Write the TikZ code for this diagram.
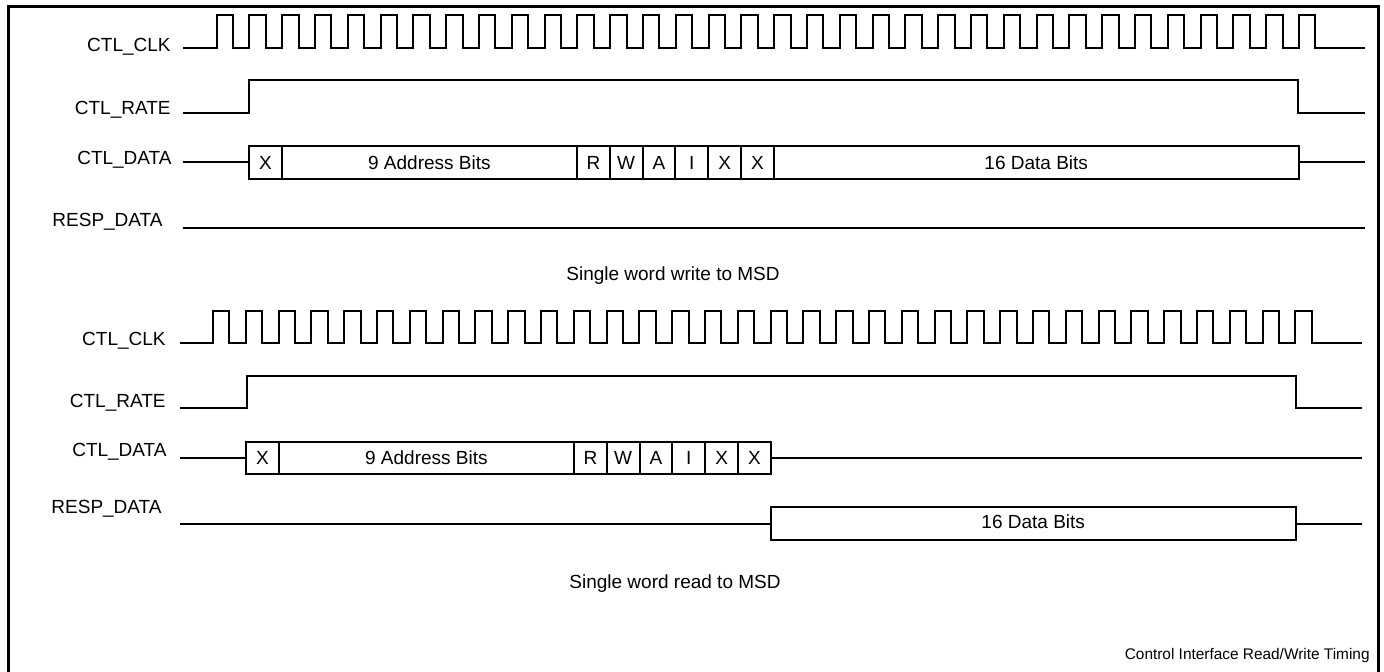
\documentclass[tikz,border=0pt]{standalone}
\usepackage{fontspec}
\setmainfont{Liberation Sans}
\usetikzlibrary{positioning}

\begin{document}
\begin{tikzpicture}[x=0.5pt, y=-0.5pt,
  font=\fontsize{9.5}{11}\selectfont,
  sig/.style={line width=1pt, line join=miter},
  lbl/.style={anchor=base east, inner sep=0pt},
  cell/.style={draw, line width=1pt, inner sep=0pt, outer sep=0pt, minimum height=16.5pt},
  ttl/.style={anchor=base, inner sep=0pt},
]
  \def\pw{16.4pt}
  \useasboundingbox (0,0) rectangle (1384,672);
  % frame, open at the bottom
  \draw[line width=1.5pt] (8,672) -- (8,7) -- (1378,7) -- (1378,672);

  % ---- single word write ----
  \node[lbl] (wclk) at (171,52) {CTL\_CLK};
  \node[lbl] (wrate) at (171,115) {CTL\_RATE};
  \node[lbl] (wdata) at (172,165) {CTL\_DATA};
  \node[lbl] (wresp) at (163,227) {RESP\_DATA};

  \draw[sig] (183,48) -- (216.5,48)
    \foreach \k in {0,...,33} { -- ++(0,-33) -- ++(16.4,0) -- ++(0,33) -- ++(16.4,0) } -- (1365,48);
  \draw[sig] (183,113) -- (249,113) -- (249,80) -- (1298,80) -- (1298,113) -- (1365,113);

  \coordinate (wds) at (183,162.5);
  \coordinate (wde) at (1365,162.5);
  \node[cell, anchor=west, minimum width=\pw] (wx0) at (249,162.5) {X};
  \node[cell, minimum width=9*\pw, right=0pt of wx0] (waddr) {9 Address Bits};
  \node[cell, minimum width=\pw, right=0pt of waddr] (wr) {R};
  \node[cell, minimum width=\pw, right=0pt of wr] (ww) {W};
  \node[cell, minimum width=\pw, right=0pt of ww] (wa) {A};
  \node[cell, minimum width=\pw, right=0pt of wa] (wi) {I};
  \node[cell, minimum width=\pw, right=0pt of wi] (wx1) {X};
  \node[cell, minimum width=\pw, right=0pt of wx1] (wx2) {X};
  \node[cell, minimum width=16*\pw, right=0pt of wx2] (wdat) {16 Data Bits};
  \draw[sig] (wds) -- (wx0.west);
  \draw[sig] (wdat.east) -- (wde);

  \draw[sig] (183,228) -- (1365,228);
  \node[ttl] (wttl) at (673,281) {Single word write to MSD};

  % ---- single word read ----
  \node[lbl] (rclk) at (166,346) {CTL\_CLK};
  \node[lbl] (rrate) at (166,408) {CTL\_RATE};
  \node[lbl] (rdata) at (167,457) {CTL\_DATA};
  \node[lbl] (rresp) at (162,514) {RESP\_DATA};

  \draw[sig] (180,343) -- (213,343)
    \foreach \k in {0,...,33} { -- ++(0,-32) -- ++(16.4,0) -- ++(0,32) -- ++(16.4,0) } -- (1362,343);
  \draw[sig] (180,408) -- (246.5,408) -- (246.5,376) -- (1295.5,376) -- (1295.5,408) -- (1362,408);

  \coordinate (rds) at (180,458);
  \coordinate (rde) at (1362,458);
  \node[cell, anchor=west, minimum width=\pw, minimum height=16pt] (rx0) at (246,458) {X};
  \node[cell, minimum width=9*\pw, minimum height=16pt, right=0pt of rx0] (raddr) {\raisebox{-1.5pt}{9 Address Bits}};
  \node[cell, minimum width=\pw, minimum height=16pt, right=0pt of raddr] (rr) {R};
  \node[cell, minimum width=\pw, minimum height=16pt, right=0pt of rr] (rw) {W};
  \node[cell, minimum width=\pw, minimum height=16pt, right=0pt of rw] (ra) {A};
  \node[cell, minimum width=\pw, minimum height=16pt, right=0pt of ra] (ri) {I};
  \node[cell, minimum width=\pw, minimum height=16pt, right=0pt of ri] (rx1) {X};
  \node[cell, minimum width=\pw, minimum height=16pt, right=0pt of rx1] (rx2) {X};
  \draw[sig] (rds) -- (rx0.west);
  \draw[sig] (rx2.east) -- (rde);

  \coordinate (rrs) at (180,523.5);
  \coordinate (rre) at (1362,523.5);
  \node[cell, anchor=west, minimum width=16*\pw] (rdat) at (rx2.east |- rrs) {\raisebox{1.5pt}{16 Data Bits}};
  \draw[sig] (rrs) -- (rdat.west);
  \draw[sig] (rdat.east) -- (rre);

  \node[ttl] (rttl) at (675,588) {Single word read to MSD};
  \node[anchor=base east, inner sep=0pt, font=\fontsize{7.7}{9}\selectfont] (cap) at (1370,659) {Control Interface Read/Write Timing};
\end{tikzpicture}
\end{document}
